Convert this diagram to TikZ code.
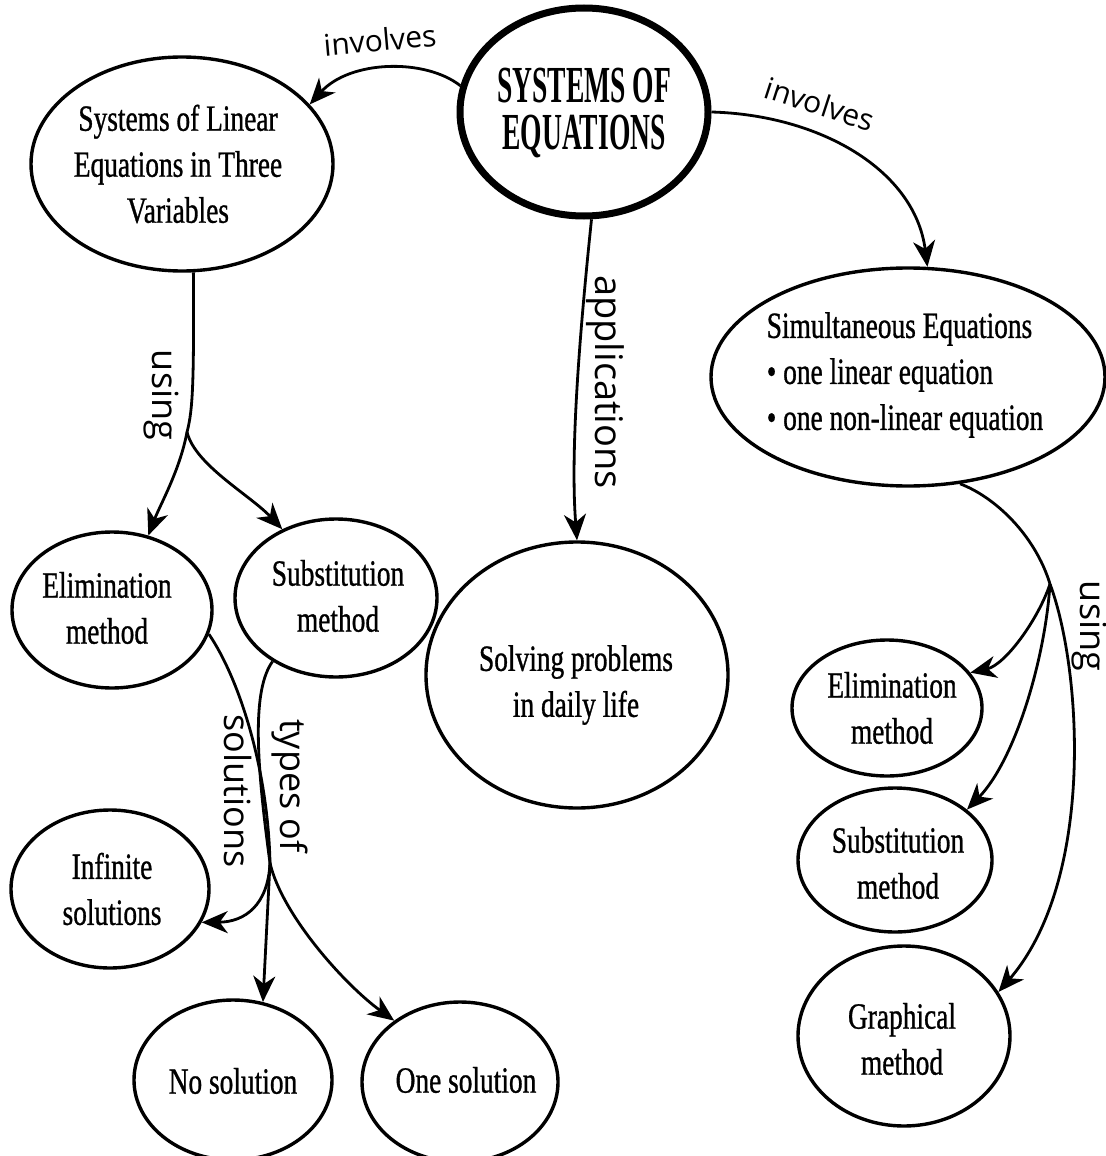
\documentclass[tikz,border=0pt]{standalone}
\usepackage{fontspec}
\setmainfont{Liberation Serif}[FakeStretch=0.74, FakeBold=0.8]
\newfontfamily\titlefont{Liberation Serif}[FakeStretch=0.53]
\newfontfamily\handfont{Open Sans}
\usetikzlibrary{shapes.geometric,arrows.meta}

\tikzset{
  bubble/.style={draw, ellipse, line width=1.7pt, inner sep=0pt},
  words/.style={font=\fontsize{18.5}{23}\selectfont, align=center, inner sep=0pt},
  link/.style={line width=1.4pt, -{Stealth[length=13pt,width=11pt,inset=4pt]}},
  wire/.style={line width=1.4pt},
  hand/.style={font=\handfont\fontsize{18}{20}\selectfont, inner sep=0pt},
}

\begin{document}
\begin{tikzpicture}[x=0.5pt, y=-0.5pt]
  \fill[white] (0,0) rectangle (1106,1156);
  \useasboundingbox (0,0) rectangle (1106,1156);

  % concept bubbles
  \node[bubble, line width=3.5pt, minimum width=124pt, minimum height=104pt] (main) at (584,112) {};
  \node[bubble, minimum width=151pt, minimum height=107pt] (lin3) at (182,164) {};
  \node[bubble, minimum width=197pt, minimum height=109pt] (sim) at (908,377) {};
  \node[bubble, minimum width=151pt, minimum height=133pt] (solve) at (577,675) {};
  \node[bubble, minimum width=100pt, minimum height=78pt] (elimL) at (112,610) {};
  \node[bubble, minimum width=101pt, minimum height=79pt] (subL) at (336,598) {};
  \node[bubble, minimum width=99pt, minimum height=79pt] (inf) at (110,889) {};
  \node[bubble, minimum width=99pt, minimum height=80pt] (nosol) at (233,1080) {};
  \node[bubble, minimum width=98pt, minimum height=80pt] (onesol) at (460,1082) {};
  \node[bubble, minimum width=95pt, minimum height=68pt] (elimR) at (887,708) {};
  \node[bubble, minimum width=97pt, minimum height=72pt] (subR) at (895,860) {};
  \node[bubble, minimum width=106pt, minimum height=90pt] (graph) at (904,1036) {};

  % bubble texts
  \node[words, font=\titlefont\bfseries\fontsize{26}{23.5}\selectfont] (main-t) at (584,113) {SYSTEMS OF\\EQUATIONS};
  \node[words] (lin3-t) at (178,164) {Systems of Linear\\Equations in Three\\Variables};
  \node[words, align=left] (sim-t) at (905,375) {Simultaneous Equations\\• one linear equation\\• one non-linear equation};
  \node[words] (solve-t) at (576,685) {Solving problems\\in daily life};
  \node[words] (elimL-t) at (107,608) {Elimination\\method};
  \node[words] (subL-t) at (338,596) {Substitution\\method};
  \node[words] (inf-t) at (112,889) {Infinite\\solutions};
  \node[words] (nosol-t) at (233,1081) {No solution};
  \node[words] (onesol-t) at (466,1080) {One solution};
  \node[words] (elimR-t) at (892,708) {Elimination\\method};
  \node[words] (subR-t) at (898,863) {Substitution\\method};
  \node[words] (graph-t) at (902,1039) {Graphical\\method};

  % branch points
  \coordinate (UL) at (187,432);
  \coordinate (J) at (270,863);
  \coordinate (UR) at (1050,584);

  % connectors from the central bubble
  \draw[link] (main.168) .. controls (425,58) and (350,60) .. (lin3.25);
  \draw[link] (main.0) .. controls (820,115) and (915,170) .. (sim.80);
  \draw[link] (main.-86) .. controls (580,330) and (570,450) .. (solve.north);

  % left branch: methods
  \draw[wire] (lin3.-84) .. controls (194,380) and (193,410) .. (UL);
  \draw[link] (UL) .. controls (180,470) and (160,505) .. (elimL.64);
  \draw[link] (UL) .. controls (195,465) and (250,495) .. (subL.128);

  % types of solutions
  \draw[wire] (elimL.-14) .. controls (240,680) and (268,770) .. (J);
  \draw[wire] (subL.225) .. controls (252,690) and (256,760) .. (J);
  \draw[link] (J) .. controls (268,905) and (245,922) .. (inf.-20);
  \draw[link] (J) -- (nosol.69);
  \draw[link] (J) .. controls (282,915) and (345,985) .. (onesol.137);

  % right branch: methods
  \draw[wire] (sim.-64.5) .. controls (995,497) and (1035,535) .. (UR);
  \draw[link] (UR) .. controls (1038,620) and (1005,665) .. (elimR.23);
  \draw[link] (UR) .. controls (1045,660) and (1015,760) .. (subR.35);
  \draw[link] (UR) .. controls (1082,670) and (1095,880) .. (graph.25);

  % connector labels
  \node[hand, font=\handfont\fontsize{15}{18}\selectfont, rotate=5] (lab-inv1) at (380,40) {involves};
  \node[hand, font=\handfont\fontsize{15}{18}\selectfont, rotate=-18] (lab-inv2) at (820,104) {involves};
  \node[hand, font=\handfont\fontsize{19}{20}\selectfont, rotate=-90] (lab-app) at (605,382) {applications};
  \node[hand, rotate=-90] (lab-use1) at (161,395) {using};
  \node[hand, rotate=-90] (lab-use2) at (1089,626) {using};
  \node[hand, rotate=-90] (lab-types) at (290,786) {types of};
  \node[hand, rotate=-90] (lab-sols) at (238,791) {solutions};
\end{tikzpicture}
\end{document}
